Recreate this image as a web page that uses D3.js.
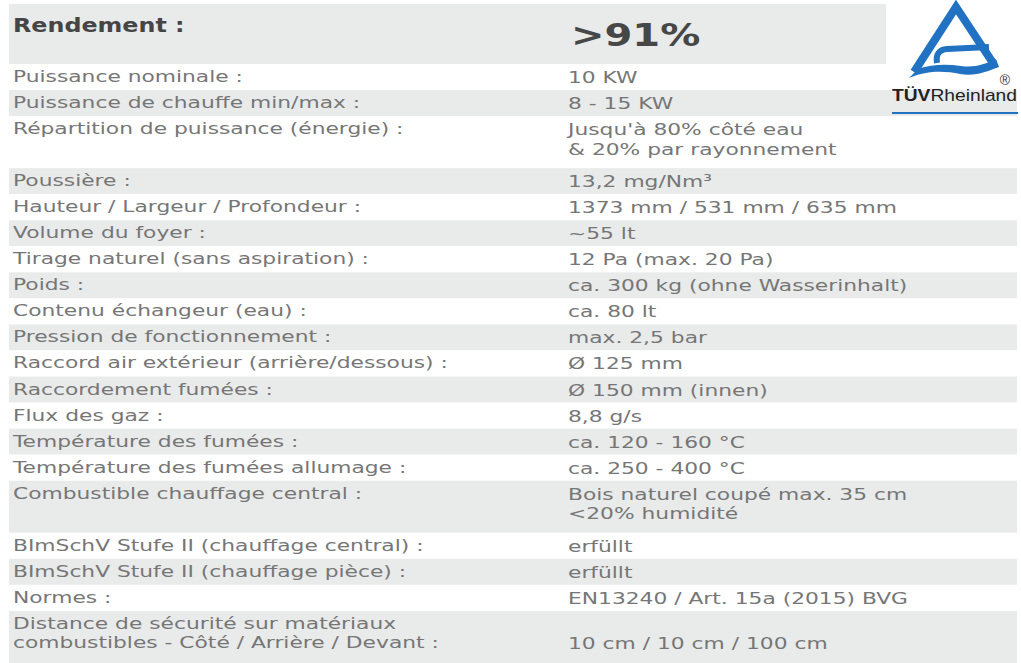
<!DOCTYPE html>
<html>
<head>
<meta charset="utf-8">
<script src="https://cdn.jsdelivr.net/npm/d3@7"></script>
<style>
  body { margin: 0; background: #fff; }
  svg { display: block; }
</style>
</head>
<body>
<svg width="1021" height="663"></svg>
<script>
const headerLabel = "Rendement :";
const headerValue = ">91%";

const labels = [
  ["Puissance nominale :"],
  ["Puissance de chauffe min/max :"],
  ["Répartition de puissance (énergie) :"],
  ["Poussière :"],
  ["Hauteur / Largeur / Profondeur :"],
  ["Volume du foyer :"],
  ["Tirage naturel (sans aspiration) :"],
  ["Poids :"],
  ["Contenu échangeur (eau) :"],
  ["Pression de fonctionnement :"],
  ["Raccord air extérieur (arrière/dessous) :"],
  ["Raccordement fumées :"],
  ["Flux des gaz :"],
  ["Température des fumées :"],
  ["Température des fumées allumage :"],
  ["Combustible chauffage central :"],
  ["BImSchV Stufe II (chauffage central) :"],
  ["BImSchV Stufe II (chauffage pièce) :"],
  ["Normes :"],
  ["Distance de sécurité sur matériaux", "combustibles - Côté / Arrière / Devant :"]
];

const values = [
  ["10 KW"],
  ["8 - 15 KW"],
  ["Jusqu'à 80% côté eau", "& 20% par rayonnement"],
  ["13,2 mg/Nm³"],
  ["1373 mm / 531 mm / 635 mm"],
  ["~55 lt"],
  ["12 Pa (max. 20 Pa)"],
  ["ca. 300 kg (ohne Wasserinhalt)"],
  ["ca. 80 lt"],
  ["max. 2,5 bar"],
  ["Ø 125 mm"],
  ["Ø 150 mm (innen)"],
  ["8,8 g/s"],
  ["ca. 120 - 160 °C"],
  ["ca. 250 - 400 °C"],
  ["Bois naturel coupé max. 35 cm", "<20% humidité"],
  ["erfüllt"],
  ["erfüllt"],
  ["EN13240 / Art. 15a (2015) BVG"],
  ["", "10 cm / 10 cm / 100 cm"]
];

const svg = d3.select("svg");
const grey = "#e9eaea";
const textColor = "#767676";
const stretch = 1.32;
const font = "'DejaVu Sans', Verdana, sans-serif";

// row heights in lines, rows stacked on a linear scale
var units = labels.map(function (d, i) {
  return Math.max(d.length, values[i].length);
});
var starts = [0];
units.forEach(function (u, i) {
  starts.push(starts[i] + u);
});
var y = d3.scaleLinear().domain([0, starts[starts.length - 1]]).range([64, 663]);
var x = d3.scaleLinear().domain([0, 1]).range([9, 1017]);

// header band
svg.append("rect")
  .attr("x", 9)
  .attr("y", 4)
  .attr("width", 886 - 9)
  .attr("height", 60)
  .attr("fill", grey);

svg.append("g")
  .attr("transform", "translate(13,32) scale(1.22,1)")
  .append("text")
  .attr("font-family", font)
  .attr("font-weight", "bold")
  .attr("font-size", 19.5)
  .attr("fill", "#454545")
  .text(headerLabel);

svg.append("g")
  .attr("transform", "translate(571,46) scale(1.25,1)")
  .append("text")
  .attr("font-family", font)
  .attr("font-weight", "bold")
  .attr("font-size", 32)
  .attr("fill", "#474747")
  .text(headerValue);

// row bands
svg.selectAll("rect.row")
  .data(units)
  .enter()
  .append("rect")
  .attr("class", "row")
  .attr("x", x(0))
  .attr("y", function (d, i) { return y(starts[i]); })
  .attr("width", x(1) - x(0))
  .attr("height", function (d, i) { return y(starts[i + 1]) - y(starts[i]); })
  .attr("fill", function (d, i) { return i % 2 === 1 ? grey : "#fff"; });

function writeColumn(data, left, offset) {
  var cells = svg.selectAll(null)
    .data(data)
    .enter()
    .append("g");
  cells.selectAll("g")
    .data(function (d, i) {
      return d.map(function (line, j) { return { line: line, row: i, j: j }; });
    })
    .enter()
    .append("g")
    .attr("transform", function (d) {
      return "translate(" + left + "," + (y(starts[d.row]) + offset + d.j * 19.5) + ") scale(" + stretch + ",1)";
    })
    .append("text")
    .attr("font-family", font)
    .attr("font-size", 16.5)
    .attr("fill", textColor)
    .text(function (d) { return d.line; });
}

writeColumn(labels, 13, 18);
writeColumn(values, 568, 19);

// TÜV Rheinland logo
var blue = "#2272c3";
var logo = svg.append("g");
logo.append("path")
  .attr("d", "M914,72 L956,7 L993,63")
  .attr("fill", "none")
  .attr("stroke", blue)
  .attr("stroke-width", 8)
  .attr("stroke-linejoin", "miter");
// wavy bottom edge
logo.append("path")
  .attr("d", "M909,78 C928,70 945,71 960,74 C975,77 988,71 999,67 L996,59 C985,64 975,68 961,66 C947,64 932,64 918,69 Z")
  .attr("fill", blue);
// inner bar hooking down into the wave
logo.append("path")
  .attr("d", "M989,47 L947,49 Q935,50 937,63")
  .attr("fill", "none")
  .attr("stroke", blue)
  .attr("stroke-width", 6);

var tuv = logo.append("text")
  .attr("x", 892)
  .attr("y", 101)
  .attr("font-family", "'Liberation Sans', Arial, sans-serif")
  .attr("font-size", 17)
  .attr("fill", "#222")
  .attr("textLength", 125)
  .attr("lengthAdjust", "spacingAndGlyphs");
tuv.append("tspan").attr("font-weight", "bold").text("TÜV");
tuv.append("tspan").text("Rheinland");

logo.append("text")
  .attr("x", 1005)
  .attr("y", 85)
  .attr("text-anchor", "middle")
  .attr("font-family", "'Liberation Sans', Arial, sans-serif")
  .attr("font-size", 14)
  .attr("fill", "#333")
  .text("®");

logo.append("line")
  .attr("x1", 892)
  .attr("x2", 1018)
  .attr("y1", 113)
  .attr("y2", 113)
  .attr("stroke", blue)
  .attr("stroke-width", 2);
</script>
</body>
</html>
